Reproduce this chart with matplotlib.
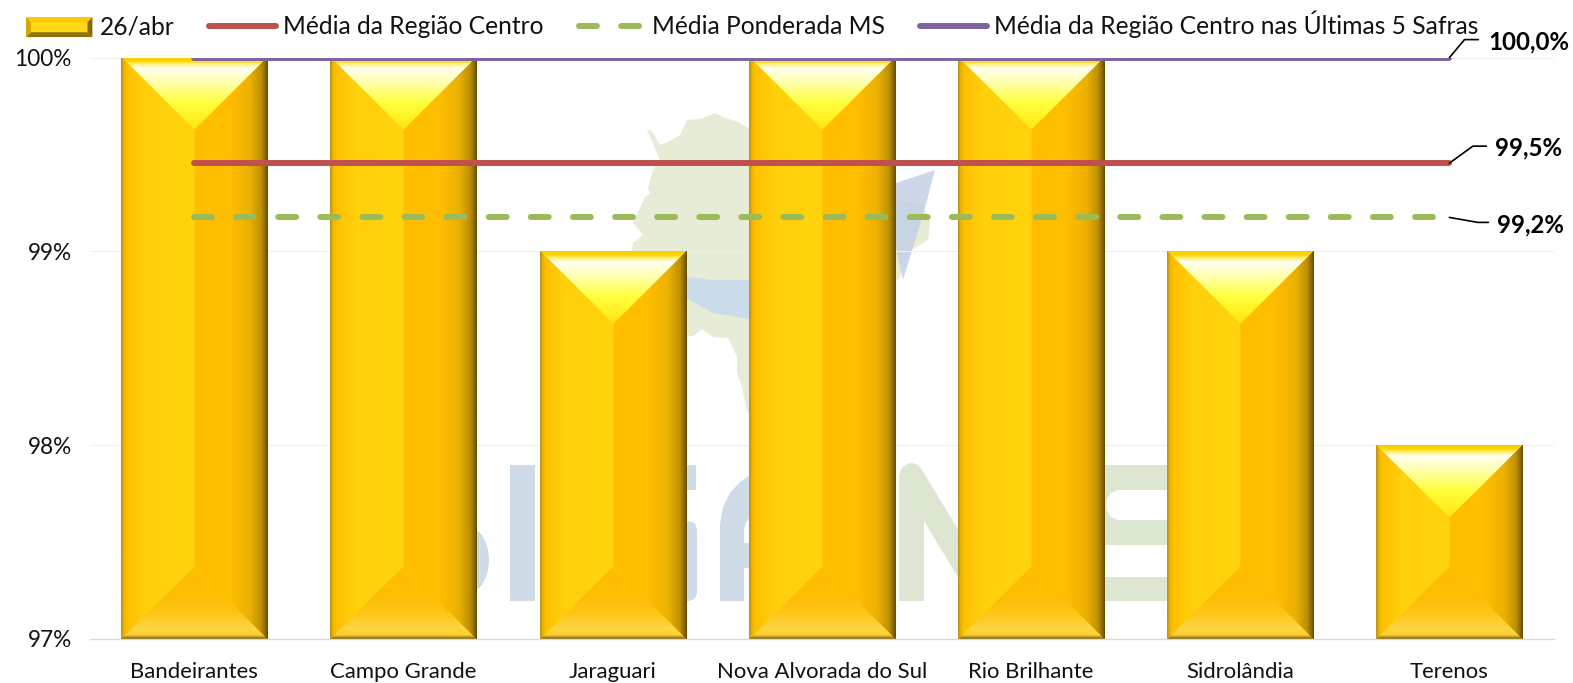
import numpy as np
import matplotlib
matplotlib.use("Agg")
import matplotlib.pyplot as plt
from matplotlib.lines import Line2D
from matplotlib.patches import Patch, Polygon, Rectangle, Ellipse, FancyBboxPatch
from matplotlib.legend_handler import HandlerBase
from matplotlib.colors import to_rgb

categories = ["Bandeirantes", "Campo Grande", "Jaraguari", "Nova Alvorada do Sul",
              "Rio Brilhante", "Sidrolândia", "Terenos"]
bar_values = [100, 100, 99, 100, 100, 99, 98]
media_centro = [99.455] * 7
media_ponderada = [99.175] * 7
media_5_safras = [100.0] * 7
yticks = [97, 98, 99, 100]
label_centro = "99,5%"
label_ponderada = "99,2%"
label_safras = "100,0%"

FW, FH = 1573, 683
plt.rcParams['font.family'] = ['Lato', 'DejaVu Sans']
fig = plt.figure(figsize=(FW / 100, FH / 100), dpi=100, facecolor='white')

# watermark artwork layer, in picture pixels (only the parts seen between the bars)
bg = fig.add_axes([0, 0, 1, 1], zorder=0)
bg.set_xlim(0, FW); bg.set_ylim(FH, 0); bg.axis('off')
map_outline = [(647,130),(651,130),(660,145),(668,142),(680,135),(687,120),(700,119),(715,113),
    (725,118),(738,122),(748,128),(895,200),(923,205),(930,222),(928,240),(912,250),(903,262),
    (900,278),(895,282),(748,415),(742,387),(737,373),(737,357),(728,338),(713,337),(702,329),
    (693,336),(686,336),(640,300),(632,248),(633,243),(643,235),(633,223),(645,197),(650,194),
    (648,188),(653,170),(660,160)]
bg.add_patch(Polygon(map_outline, fc='#E6ECD5', ec='none'))
bg.add_patch(Polygon([(640,265),(686,277),(713,280),(749,280),(800,275),(800,325),(749,319),
    (713,313),(686,298)], fc='#CADCEA', ec='none'))
bg.add_patch(Polygon([(890,185),(935,170),(923,215),(903,280),(897,253)], fc='#C4D0E6', ec='none', alpha=.85))
BLUE, GREEN = '#CFDBE6', '#DCE6D1'
bg.add_patch(Ellipse((468, 560), 42, 66, fc=BLUE, ec='none'))
bg.add_patch(Rectangle((510, 465), 25, 136, fc=BLUE, ec='none'))
bg.add_patch(Rectangle((670, 465), 26, 25, fc=BLUE, ec='none'))
bg.add_patch(FancyBboxPatch((660, 521), 37, 80, boxstyle='round,pad=0,rounding_size=10', fc=BLUE, ec='none'))
bg.add_patch(Polygon([(720,601),(720,525),(723,507),(730,493),(740,482),(752,474),(752,515),(746,522),
    (744,530),(744,601)], fc=BLUE, ec='none'))
bg.add_patch(Rectangle((744, 543), 8, 25, fc=BLUE, ec='none'))
bg.add_patch(Polygon([(899,601),(899,475),(902,468),(907,464),(912,463),(918,465),(922,470),(962,536),
    (962,584),(924,521),(924,601)], fc=GREEN, ec='none'))
bg.add_patch(Polygon([(1100,465),(1170,465),(1170,490),(1118,490),(1111,493),(1107,499),(1106,505),
    (1107,511),(1111,517),(1118,520),(1170,520),(1170,545),(1100,545)], fc=GREEN, ec='none'))
bg.add_patch(Rectangle((1100, 577), 70, 24, fc=GREEN, ec='none'))

# chart axes
L, R, T, B = 89.7, 1554.0, 57.6, 638.7
ax = fig.add_axes([L / FW, 1 - B / FH, (R - L) / FW, (B - T) / FH], zorder=1)
ax.patch.set_alpha(0)
x = np.arange(len(categories))


def ramp(pos, stops):
    s = np.array([p for p, _ in stops], float)
    c = np.array([to_rgb(v) for _, v in stops])
    return np.stack([np.interp(pos, s, c[:, i]) for i in range(3)], -1)


def bevel(w, h):
    b = w / 2
    xx, yy = np.meshgrid(np.arange(w) + .5, np.arange(h) + .5)
    img = np.where((xx < b)[..., None],
                   ramp(xx, [(0,'#B09020'),(3,'#F0B400'),(6,'#FFC000'),(25,'#FFD00C'),(72,'#FFD40D')]),
                   ramp(xx, [(73,'#FFC000'),(108,'#FFBE00'),(128,'#EBB000'),(139,'#BE9100'),(144,'#7F6200'),(146,'#5F4A00')]))
    top = (yy < b) & (xx > yy) & (w - xx > yy)
    t = ramp(yy, [(0,'#FFC800'),(4,'#FFD600'),(7,'#FFF27A'),(11,'#FFFFF0'),(20,'#FFFFC8'),(46,'#FFFF3C'),(60,'#FFF224'),(73,'#FFE212')])
    img[top] = t[top]
    d = h - yy
    bot = (d < b) & (xx > d) & (w - xx > d)
    u = ramp(d, [(0,'#7A6000'),(2,'#B89020'),(4,'#FFCF30'),(11,'#FFD442'),(26,'#FFC516'),(42,'#FCBD05'),(73,'#FFC000')])
    img[bot] = u[bot]
    return img


bars = ax.bar(x, [v - yticks[0] for v in bar_values], width=0.698, bottom=yticks[0],
              color='#FFC000', zorder=2)
ax.set_xlim(-.5, len(categories) - .5)
ax.set_ylim(yticks[0], yticks[-1])
px_per_val = (B - T) / (yticks[-1] - yticks[0])
for rect, v in zip(bars, bar_values):
    im = ax.imshow(bevel(146, int(round((v - yticks[0]) * px_per_val))),
                   extent=(rect.get_x(), rect.get_x() + rect.get_width(), yticks[0], v),
                   aspect='auto', interpolation='bilinear', zorder=2.1)
    im.set_clip_path(rect)
ax.set_xlim(-.5, len(categories) - .5)
ax.set_ylim(yticks[0], yticks[-1])

ln_red, = ax.plot(x, media_centro, color='#C0504D', lw=4.3, solid_capstyle='round', zorder=3, clip_on=False)
ln_grn, = ax.plot(x, media_ponderada, color='#9BBB59', lw=4.3, ls=(0, (3.0, 4.05)),
                  dash_capstyle='round', zorder=3, clip_on=False)
ln_pur, = ax.plot(x, media_5_safras, color='#8064A2', lw=4.3, solid_capstyle='round', zorder=3, clip_on=True)

ax.set_yticks(yticks)
ax.set_yticklabels([f"{t}%" for t in yticks], fontsize=16.3, color='#111111')
ax.set_xticks(x)
ax.set_xticklabels(categories, fontsize=15.9, color='#111111')
ax.tick_params(axis='both', length=0)
ax.tick_params(axis='y', pad=13)
ax.tick_params(axis='x', pad=17)
ax.grid(axis='y', color='#EFEFEF', lw=.8, zorder=0)
ax.set_axisbelow(True)
for s in ('top', 'left', 'right'):
    ax.spines[s].set_visible(False)
ax.spines['bottom'].set_color('#D9D9D9')
ax.spines['bottom'].set_linewidth(1.0)


# data labels with leader lines (offsets in pixels)
def lead(y, label, tx, ty, ex, ey, ang):
    xl = x[-1]
    ax.annotate('', xy=(xl, y), xytext=(ex, ey), textcoords='offset pixels',
                arrowprops=dict(arrowstyle='-', color='black', lw=1.2, shrinkA=0, shrinkB=0,
                                connectionstyle=f'angle,angleA=0,angleB={ang},rad=0'), zorder=4,
                annotation_clip=False)
    ax.annotate(label, xy=(xl, y), xytext=(tx, ty), textcoords='offset pixels', fontsize=17.3,
                fontweight='bold', color='black', va='center', ha='left', annotation_clip=False, zorder=4)


lead(media_5_safras[-1], label_safras, 39, 16, 29, 18, 50)
lead(media_centro[-1], label_centro, 46, 15, 37, 17, 36)
lead(media_ponderada[-1], label_ponderada, 48, -8, 39, -5, -10)


class BevelHandler(HandlerBase):
    def create_artists(self, legend, orig, xd, yd, w, h, fs, trans):
        top = h * 1.0; y0 = -h * .15; m = 3.5
        x0, x1 = -xd, -xd + w
        parts = [Rectangle((x0, y0), w, top - y0, fc='#FFD91A', ec='none', transform=trans),
                 Polygon([(x0, top), (x1, top), (x1 - m, top - m), (x0 + m, top - m)], fc='#FFC800', ec='none', transform=trans),
                 Polygon([(x0, y0), (x1, y0), (x1 - m, y0 + m), (x0 + m, y0 + m)], fc='#8E7308', ec='none', transform=trans),
                 Polygon([(x0, y0), (x0, top), (x0 + m, top - m), (x0 + m, y0 + m)], fc='#D9A600', ec='none', transform=trans),
                 Polygon([(x1, y0), (x1, top), (x1 - m, top - m), (x1 - m, y0 + m)], fc='#8A6A00', ec='none', transform=trans)]
        return parts


handles = [Patch(label='26/abr'), ln_red, ln_grn, ln_pur]
leg = ax.legend(handles, ['26/abr', 'Média da Região Centro', 'Média Ponderada MS',
                          'Média da Região Centro nas Últimas 5 Safras'],
                handler_map={Patch: BevelHandler()}, ncol=4, frameon=False, fontsize=17.7,
                loc='upper left', bbox_to_anchor=(26 / FW, 1 - 11 / FH), bbox_transform=fig.transFigure,
                borderpad=0, borderaxespad=0, handlelength=2.7, handletextpad=.3, columnspacing=1.42,
                labelcolor='#111111')

fig.savefig('out.png', dpi=100)
